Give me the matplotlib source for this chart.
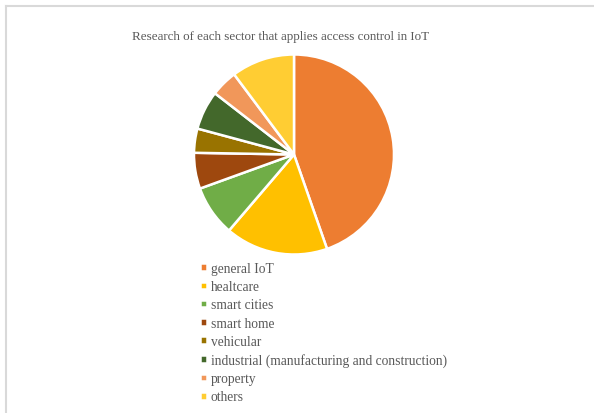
import matplotlib.pyplot as plt
from matplotlib.lines import Line2D

sectors = ["general IoT", "healtcare", "smart cities", "smart home", "vehicular",
           "industrial (manufacturing and construction)", "property", "others"]
shares = [44.6, 16.6, 8.2, 5.8, 3.9, 6.3, 4.3, 10.2]
colors = ["#ED7D31", "#FFC000", "#70AD47", "#9E480E", "#997300",
          "#43682B", "#F1975A", "#FFCD33"]

plt.rcParams['font.family'] = ['Liberation Serif', 'DejaVu Serif']

W, H = 594, 414
fig = plt.figure(figsize=(W / 100, H / 100), dpi=100)

# light grey chart frame (only top and left edges are visible)
fig.lines.append(Line2D([5.5 / W, 1.0], [1 - 6.5 / H] * 2, transform=fig.transFigure,
                        color="#D9D9D9", linewidth=1.5))
fig.lines.append(Line2D([5.5 / W] * 2, [0, 1 - 6.5 / H], transform=fig.transFigure,
                        color="#D9D9D9", linewidth=1.5))

cx, cy, r = 294, 155.5, 101
ax = fig.add_axes([(cx - r) / W, (H - cy - r) / H, 2 * r / W, 2 * r / H])
wedges, _ = ax.pie(shares, colors=colors, startangle=90, counterclock=False,
                   radius=1, wedgeprops=dict(edgecolor="white", linewidth=1.8))
ax.set_aspect("equal")
ax.set_xlim(-1.01, 1.01)
ax.set_ylim(-1.01, 1.01)

fig.text(281 / W, 1 - 37 / H, "Research of each sector that applies access control in IoT",
         ha="center", va="center", fontsize=9.4, color="#595959")

fig.legend(wedges, sectors, loc="upper left", bbox_to_anchor=(200 / W, 1 - 263 / H),
           frameon=False, fontsize=9.75, labelcolor="#595959",
           handlelength=0.5, handleheight=0.5, handletextpad=0.3,
           labelspacing=0.385, borderpad=0, borderaxespad=0)

plt.savefig("out.png", dpi=100)
